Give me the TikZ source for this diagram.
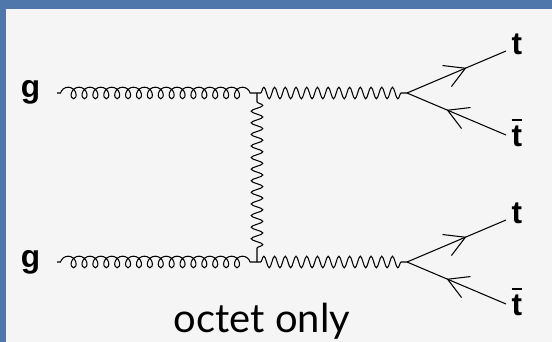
\documentclass[tikz,border=0pt]{standalone}
\usepackage{fontspec}
\setmainfont{Liberation Sans}
\newfontfamily\capfont{Lato}
\usetikzlibrary{decorations.pathmorphing,decorations.markings,arrows.meta}
\definecolor{frameblue}{HTML}{4F77AB}
\definecolor{panelgray}{HTML}{F5F5F5}
\newcommand{\tbarred}{\leavevmode\rlap{\raisebox{.82em}{\rule{.33em}{.05em}}}t}
\tikzset{
  gluon/.style={decorate,decoration={coil,aspect=.85,amplitude=3.3pt,segment length=6.2pt,
    pre length=2pt,post length=3pt}},
  boson/.style={decorate,decoration={snake,amplitude=3.3pt,segment length=6.1pt,
    pre length=2pt,post length=2pt}},
  fermion/.style={postaction={decorate},decoration={markings,
    mark=at position #1 with {\arrow{Straight Barb[length=11.4pt,width=13pt,line width=.6pt]}}}},
  particle/.style={font=\bfseries\fontsize{18}{18}\selectfont,inner sep=0pt},
}
\begin{document}
\begin{tikzpicture}[x=.02cm,y=-.02cm,line width=.6pt]
\useasboundingbox (0,0) rectangle (552,342);
\fill[frameblue] (0,0) rectangle (552,342);
\fill[panelgray] (6,8.5) rectangle (552,342);
% upper row
\node[particle] (g1) at (30.5,92.5) {g};
\node[particle] (t1) at (517,44) {t};
\node[particle] (tb1) at (517,133) {\tbarred};
\coordinate (g1end) at (57,93);
\coordinate (v1) at (257,93);
\coordinate (w1) at (407,93);
\coordinate (t1end) at (506,51);
\coordinate (tb1end) at (506,135);
% lower row
\node[particle] (g2) at (30.5,262.5) {g};
\node[particle] (t2) at (517,213) {t};
\node[particle] (tb2) at (517,302) {\tbarred};
\coordinate (g2end) at (57,262);
\coordinate (v2) at (257,262);
\coordinate (w2) at (407,262);
\coordinate (t2end) at (506,220);
\coordinate (tb2end) at (506,304);
\draw[gluon] (g1end) -- (v1);
\draw[gluon] (g2end) -- (v2);
\draw[boson] (v1) -- (w1);
\draw[boson] (v2) -- (w2);
\draw[boson,decoration={pre length=5pt,post length=6pt,segment length=6.6pt}] (v1) -- (v2);
\draw[fermion=.6] (w1) -- (t1end);
\draw[fermion=.6] (tb1end) -- (w1);
\draw[fermion=.6] (w2) -- (t2end);
\draw[fermion=.6] (tb2end) -- (w2);
\node[font=\capfont\fontsize{22.7}{24}\selectfont,inner sep=0pt] (tag) at (262,321) {octet only};
\end{tikzpicture}
\end{document}
